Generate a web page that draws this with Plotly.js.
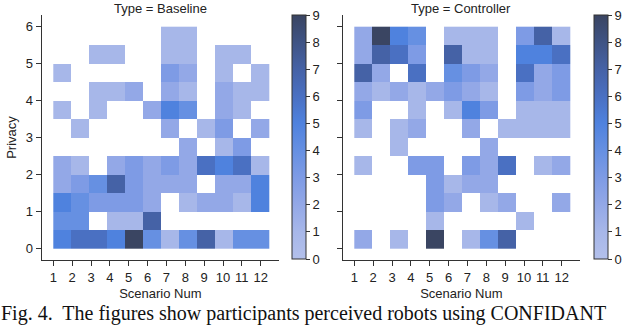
<!DOCTYPE html>
<html>
<head>
<meta charset="utf-8">
<script src="https://cdn.plot.ly/plotly-3.0.1.min.js"></script>
<style>
  html, body { margin: 0; padding: 0; background: #fff; }
  #chart { width: 640px; height: 325px; }
</style>
</head>
<body>
<div id="chart"></div>
<script>
// scenario numbers (x) and privacy bin edges (y, half-point bins)
var scenarios = [1, 2, 3, 4, 5, 6, 7, 8, 9, 10, 11, 12];
var privacyEdges = [0, 0.5, 1, 1.5, 2, 2.5, 3, 3.5, 4, 4.5, 5, 5.5, 6];
var privacyTicks = [0, 1, 2, 3, 4, 5, 6];
var countTicks = [0, 1, 2, 3, 4, 5, 6, 7, 8, 9];

// counts per privacy bin (bottom row first), one value per scenario; 0 = empty cell
var baselineCounts = [
    [5, 6, 6, 5, 9, 4, 1, 4, 7, 1, 4, 4],
    [4, 4, 0, 1, 1, 7, 0, 0, 0, 0, 0, 0],
    [5, 4, 3, 3, 3, 2, 0, 1, 2, 2, 1, 5],
    [2, 3, 4, 7, 3, 2, 2, 2, 0, 2, 2, 5],
    [2, 1, 0, 2, 3, 2, 3, 2, 6, 5, 6, 1],
    [0, 0, 0, 0, 0, 0, 0, 2, 0, 1, 3, 0],
    [0, 1, 0, 0, 0, 0, 2, 0, 1, 3, 0, 2],
    [1, 0, 1, 0, 0, 2, 5, 4, 0, 2, 1, 0],
    [0, 0, 1, 1, 2, 0, 2, 1, 0, 2, 1, 1],
    [1, 0, 0, 0, 0, 0, 3, 2, 0, 1, 0, 1],
    [0, 0, 1, 1, 0, 0, 1, 1, 0, 1, 1, 0],
    [0, 0, 0, 0, 0, 0, 1, 1, 0, 0, 0, 0]
];

var controllerCounts = [
    [2, 0, 1, 0, 9, 0, 1, 4, 7, 0, 0, 0],
    [0, 0, 0, 0, 1, 0, 0, 0, 0, 1, 0, 0],
    [0, 0, 0, 0, 3, 2, 0, 1, 2, 0, 0, 2],
    [0, 0, 0, 0, 3, 1, 2, 2, 0, 0, 0, 0],
    [1, 0, 0, 3, 3, 0, 3, 2, 6, 0, 1, 2],
    [0, 0, 1, 0, 0, 0, 0, 2, 0, 0, 0, 0],
    [1, 0, 1, 2, 0, 0, 2, 0, 1, 1, 1, 1],
    [3, 0, 0, 1, 0, 1, 5, 3, 0, 1, 1, 1],
    [2, 1, 2, 1, 2, 3, 2, 1, 0, 3, 2, 3],
    [7, 2, 0, 6, 0, 4, 3, 2, 0, 6, 2, 3],
    [2, 7, 6, 3, 0, 7, 1, 1, 0, 5, 5, 6],
    [2, 9, 5, 4, 0, 1, 1, 1, 0, 3, 7, 1]
];

var panelTitles = ["Type = Baseline", "Type = Controller"];

var W = 640, H = 325;
var font = "Liberation Sans, Arial, sans-serif";
var ink = "#222";

// seaborn bins: 12 bins starting at scenario 1
var binWidth = 0.954;
var scenarioEdges = [scenarios[0]];
scenarios.forEach(function (s, i) {
    scenarioEdges.push(scenarios[0] + (i + 1) * binWidth);
});

function masked(m) {
    return m.map(function (row) {
        return row.map(function (v) { return v === 0 ? null : v; });
    });
}

var colors = [
    [0.000, "#b3c0eb"],
    [0.111, "#a7b7e9"],
    [0.222, "#93a8e7"],
    [0.333, "#7e9be5"],
    [0.444, "#6690e2"],
    [0.556, "#4f82de"],
    [0.667, "#4a70c2"],
    [0.778, "#4562a6"],
    [0.889, "#3f5384"],
    [1.000, "#3a4562"]
];

function cbar(px) {
    return {
        x: px / W, xanchor: "left", xref: "paper", xpad: 0,
        y: (H - 259) / H, yanchor: "bottom", ypad: 0,
        len: 244, lenmode: "pixels",
        thickness: 14, thicknessmode: "pixels",
        outlinewidth: 1, outlinecolor: "#333",
        ticks: "outside", ticklen: 4, tickcolor: "#333",
        tickvals: countTicks,
        tickfont: { family: font, size: 13, color: ink }
    };
}

var traces = [
    {
        type: "heatmap", x: scenarioEdges, y: privacyEdges, z: masked(baselineCounts),
        zmin: 0, zmax: 9, colorscale: colors, xaxis: "x", yaxis: "y",
        colorbar: cbar(291.7), hoverongaps: false
    },
    {
        type: "heatmap", x: scenarioEdges, y: privacyEdges, z: masked(controllerCounts),
        zmin: 0, zmax: 9, colorscale: colors, xaxis: "x2", yaxis: "y2",
        colorbar: cbar(594.3), hoverongaps: false
    }
];

function xax(l, r, anchor) {
    return {
        domain: [l / W, r / W], anchor: anchor,
        range: [0.385, 12.97],
        tickvals: scenarios, ticks: "outside", ticklen: 5, tickcolor: "#333",
        showline: true, linecolor: "#333", linewidth: 1.2,
        showgrid: false, zeroline: false,
        tickfont: { family: font, size: 13, color: ink },
        title: { text: "Scenario Num", standoff: 5, font: { family: font, size: 13, color: ink } }
    };
}

function yax(anchor, labels) {
    return {
        domain: [(H - 260) / H, (H - 15) / H], anchor: anchor,
        range: [-0.3, 6.316],
        tickvals: privacyTicks, ticks: "outside", ticklen: 5, tickcolor: "#333",
        showticklabels: labels,
        showline: true, linecolor: "#333", linewidth: 1.2,
        showgrid: false, zeroline: false,
        tickfont: { family: font, size: 13, color: ink },
        title: { text: labels ? "Privacy" : "", standoff: 6, font: { family: font, size: 13, color: ink } }
    };
}

var layout = {
    width: W, height: H,
    margin: { l: 0, r: 0, t: 0, b: 0 },
    paper_bgcolor: "#fff", plot_bgcolor: "#fff",
    showlegend: false,
    xaxis: xax(41.7, 279, "y"),
    yaxis: yax("x", true),
    xaxis2: xax(342.7, 580, "y2"),
    yaxis2: yax("x2", false),
    annotations: [
        {
            text: panelTitles[0], xref: "paper", yref: "paper",
            x: (41.7 + 279) / 2 / W, y: 1, xanchor: "center", yanchor: "top",
            showarrow: false, borderpad: 0, font: { family: font, size: 13, color: ink }
        },
        {
            text: panelTitles[1], xref: "paper", yref: "paper",
            x: (342.7 + 580) / 2 / W, y: 1, xanchor: "center", yanchor: "top",
            showarrow: false, borderpad: 0, font: { family: font, size: 13, color: ink }
        },
        {
            text: "Fig. 4.  The figures show participants perceived robots using CONFIDANT",
            xref: "paper", yref: "paper", x: 0, y: -0.004,
            xanchor: "left", yanchor: "bottom", showarrow: false, borderpad: 0,
            font: { family: "Liberation Serif, Times New Roman, serif", size: 20, color: "#111" }
        }
    ]
};

Plotly.newPlot("chart", traces, layout, { staticPlot: true, displayModeBar: false });
</script>
</body>
</html>
